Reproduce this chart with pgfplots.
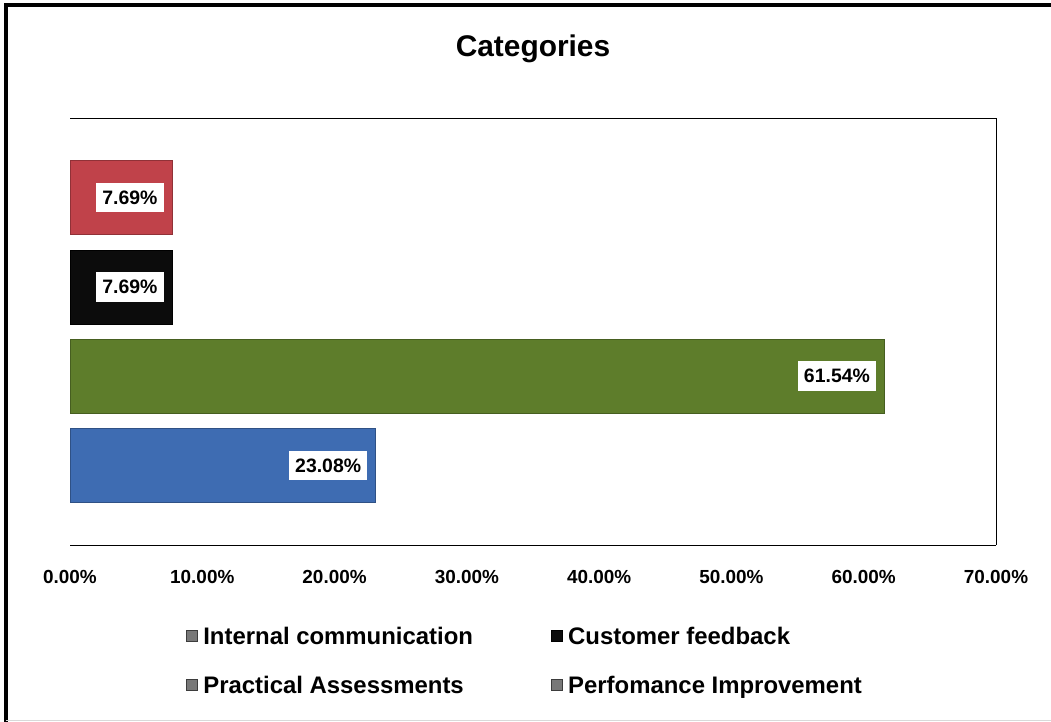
\documentclass[border=0pt]{standalone}
\usepackage{fontspec}
\setmainfont{Liberation Sans}
\usepackage{pgfplots}
\pgfplotsset{compat=1.18}

\definecolor{barblue}{RGB}{62,108,178}
\definecolor{bargreen}{RGB}{94,125,43}
\definecolor{barred}{RGB}{192,66,74}
\definecolor{barblack}{RGB}{12,12,12}
\definecolor{legmark}{RGB}{120,120,120}

\begin{document}
\begin{tikzpicture}
% page area, in bp, measured from the lower left corner of the plot box
\path[use as bounding box] (-70bp,-177bp) rectangle (981bp,545bp);
\begin{axis}[
    scale only axis,
    width=926bp, height=427bp,
    xmin=0, xmax=70,
    ymin=-0.89, ymax=3.89,
    xbar, bar width=74bp, bar shift=0pt,
    axis x line*=box, axis y line*=right,
    axis line style={black, line width=0.9bp},
    ytick=\empty,
    xtick={0,10,...,70},
    major tick length=0pt,
    /pgf/number format/assume math mode=true,
    xticklabel={\pgfmathprintnumber[fixed,fixed zerofill,precision=2]{\tick}\%},
    xticklabel style={font=\fontsize{19}{22}\selectfont\bfseries, yshift=-22bp},
    title={Categories},
    title style={font=\fontsize{30}{34}\selectfont\bfseries, at={(0.5,1)}, anchor=center, yshift=63bp},
    point meta=x,
    nodes near coords={\pgfmathprintnumber[fixed,fixed zerofill,precision=2]{\pgfplotspointmeta}\%},
    nodes near coords align={left},
    every node near coord/.append style={font=\fontsize{19.5}{22}\selectfont\bfseries, fill=white,
        text=black, inner xsep=6bp, inner ysep=8bp, xshift=-8bp},
    legend columns=2,
    legend cell align=left,
    legend style={at={(0.5,0)}, anchor=north, yshift=-78bp, xshift=-8bp, draw=none, fill=none,
        font=\fontsize{24}{28}\selectfont\bfseries, row sep=26bp,
        /tikz/every even column/.append style={column sep=76bp}},
]
\addplot[fill=barblue, draw=barblue!75!black,
    legend image code/.code={\path[draw=none, fill=none] (0bp,0bp) -- (15bp,0bp);
        \draw[fill=legmark, draw=legmark!50!black] (0bp,-5bp) rectangle (11bp,6bp);}]
    coordinates {(23.08,0)};
\addlegendentry{Internal communication}
\addplot[fill=barblack, draw=black,
    legend image code/.code={\path[draw=none, fill=none] (0bp,0bp) -- (15bp,0bp);
        \draw[fill=barblack, draw=black] (0bp,-5bp) rectangle (11bp,6bp);}]
    coordinates {(7.69,2)};
\addlegendentry{Customer feedback}
\addplot[fill=bargreen, draw=bargreen!75!black,
    legend image code/.code={\path[draw=none, fill=none] (0bp,0bp) -- (15bp,0bp);
        \draw[fill=legmark, draw=legmark!50!black] (0bp,-5bp) rectangle (11bp,6bp);}]
    coordinates {(61.54,1)};
\addlegendentry{Practical Assessments}
\addplot[fill=barred, draw=barred!75!black,
    legend image code/.code={\path[draw=none, fill=none] (0bp,0bp) -- (15bp,0bp);
        \draw[fill=legmark, draw=legmark!50!black] (0bp,-5bp) rectangle (11bp,6bp);}]
    coordinates {(7.69,3)};
\addlegendentry{Perfomance Improvement}
\end{axis}
% outer frame of the chart
\draw[line width=4bp, black] (-64bp,-177bp) -- (-64bp,540bp) -- (981bp,540bp);
\draw[line width=1bp, black!15] (-64bp,-175bp) -- (981bp,-175bp);
\end{tikzpicture}
\end{document}
